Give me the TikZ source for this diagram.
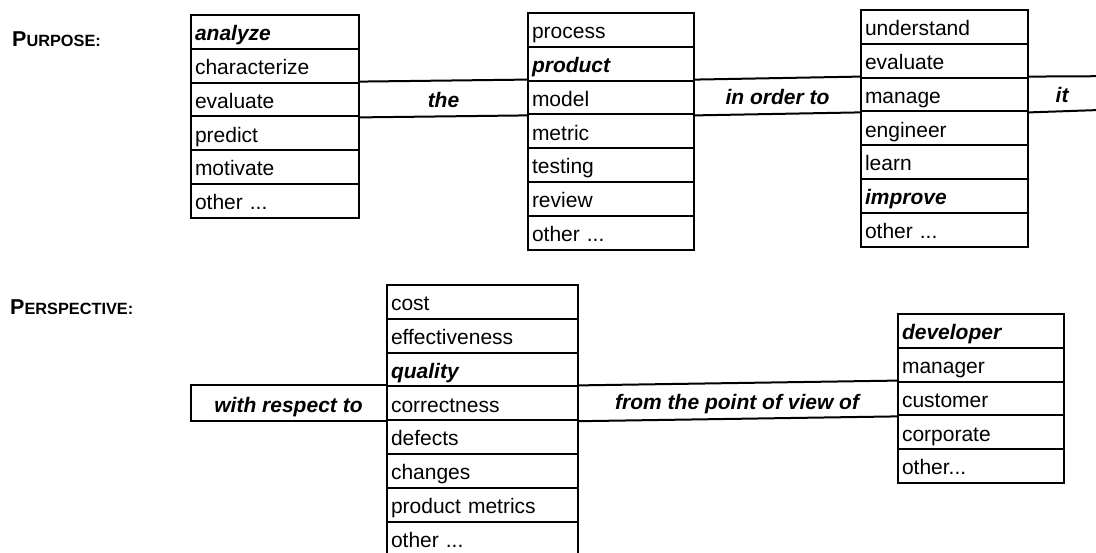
\documentclass[tikz,border=0pt]{standalone}
\usepackage{fontspec}
\setmainfont{Liberation Sans}
\usetikzlibrary{calc}

% bold italic keyword and a faked bold small-caps heading
\newcommand\kw[1]{\textbf{\textit{#1}}}
\newcommand\headcaps[2]{\bfseries{\fontsize{21.5}{25}\selectfont #1}{\fontsize{16.3}{19}\selectfont #2}}
% three periods, kept out of \foreach's range syntax
\newcommand\threedots{...}

\tikzset{
  base font/.style={font=\fontsize{21}{25}\selectfont},
  cell/.style={draw, line width=2pt, anchor=north west, base font,
    inner xsep=4pt, inner ysep=0pt, text width=#1, align=left,
    minimum height=33.8pt, text height=25.8pt, text depth=8pt},
  band/.style={line width=2pt},
  joiner/.style={base font, inner xsep=0pt, inner ysep=0pt,
    text height=25.8pt, text depth=8pt, anchor=center},
  heading/.style={anchor=base west, inner sep=0pt},
}

\begin{document}
\begin{tikzpicture}[x=1pt, y=-1pt]
\useasboundingbox (0,0) rectangle (1096,553);
\clip (0,0) rectangle (1096,553);

% ---------- Purpose ----------
\node[heading] (purpose) at (12,47) {\headcaps{P}{URPOSE:}};

\foreach \t [count=\i] in {{\kw{analyze}}, characterize, evaluate, predict, motivate, {other \threedots}}
  \node[cell=160pt] (a\i) at (190, {14+33.8*(\i-1)}) {\t};

\foreach \t [count=\i] in {process, {\kw{product}}, model, metric, testing, review, {other \threedots}}
  \node[cell=158pt] (b\i) at (527, {12+33.8*(\i-1)}) {\t};

\foreach \t [count=\i] in {understand, evaluate, manage, engineer, learn, {\kw{improve}}, {other \threedots}}
  \node[cell=159pt] (c\i) at (860, {9+33.8*(\i-1)}) {\t};

\coordinate (topend) at (1100,76.2);
\coordinate (botend) at (1100,110.0);

\draw[band] (a3.north east) -- (b3.north west)
            (b3.north east) -- (c3.north west)
            (c3.north east) -- (topend);
\draw[band] (a3.south east) -- (b3.south west)
            (b3.south east) -- (c3.south west)
            (c3.south east) -- (botend);

\node[joiner] (the) at ($(a3.east)!0.5!(b3.west)$) {\kw{the}};
\node[joiner] (inorder) at ($(b3.east)!0.5!(c3.west)$) {\kw{in order to}};
\node[joiner] (it) at ($(c3.east)!0.5!(1096,93)$) {\kw{it}};

% ---------- Perspective ----------
\node[heading] (persp) at (10,315) {\headcaps{P}{ERSPECTIVE:}};

\foreach \t [count=\i] in {cost, effectiveness, {\kw{quality}}, correctness, defects, changes, product metrics, {other \threedots}}
  \node[cell=183pt] (d\i) at (386, {284+33.8*(\i-1)}) {\t};

\foreach \t [count=\i] in {{\kw{developer}}, manager, customer, corporate, {other\threedots}}
  \node[cell=158pt] (e\i) at (897, {313+33.8*(\i-1)}) {\t};

\coordinate (wrtleft) at (191,0);
\draw[band] (d4.north west) -- (d4.north west -| wrtleft)
            -- (d4.south west -| wrtleft) -- (d4.south west);
\draw[band] (d4.north east) -- (e3.north west)
            (d4.south east) -- (e3.south west);

\node[joiner] (wrt) at ($(d4.west)!0.5!(d4.west -| wrtleft)$) {\kw{with respect to}};
\node[joiner] (pov) at ($(d4.east)!0.5!(e3.west)$) {\kw{from the point of view of}};
\end{tikzpicture}
\end{document}
